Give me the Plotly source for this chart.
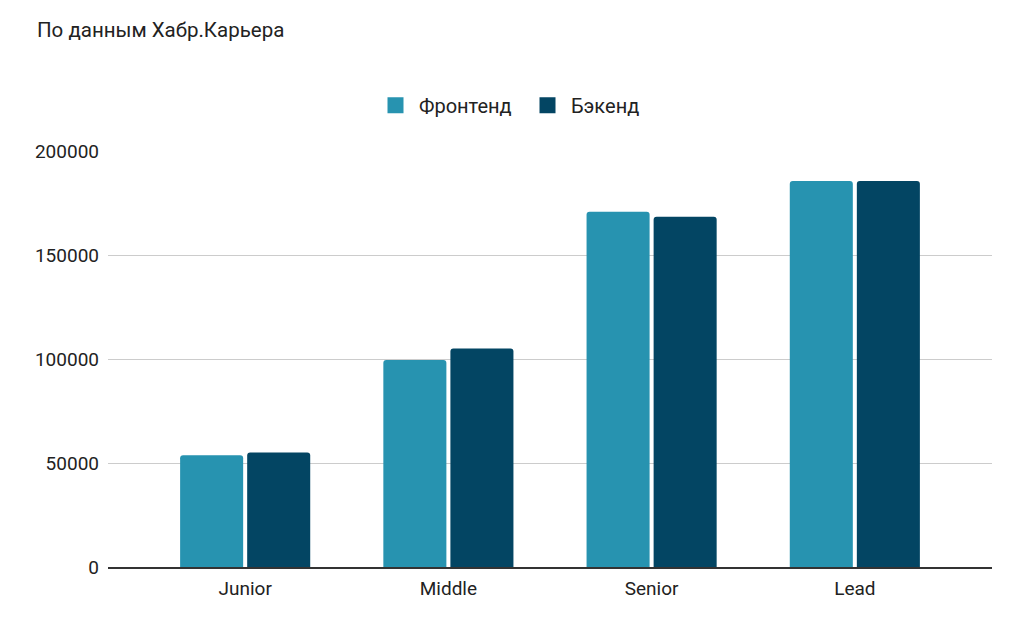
import plotly.graph_objects as go

levels = ["Junior", "Middle", "Senior", "Lead"]
frontend = [53700, 99500, 170800, 185600]
backend = [55100, 105100, 168400, 185600]
y_ticks = [0, 50000, 100000, 150000, 200000]

series = [("Фронтенд", frontend, "#2793b0"), ("Бэкенд", backend, "#034563")]

fig = go.Figure()
for name, values, color in series:
    fig.add_trace(go.Bar(
        x=levels, y=values, name=name, showlegend=False,
        marker={"color": color, "cornerradius": 3, "line": {"width": 0}}
    ))
# legend entries with larger square swatches
for name, values, color in series:
    fig.add_trace(go.Scatter(
        x=[None], y=[None], name=name, mode="markers",
        marker={"symbol": "square", "size": 20, "color": color}
    ))

# the page body has an 8px margin, so offsets are shifted by 8
fig.update_layout(
    width=1024, height=633,
    font={"family": "Roboto, Arial, sans-serif", "size": 19, "color": "#222222"},
    paper_bgcolor="white", plot_bgcolor="white",
    margin={"l": 100, "r": 40, "t": 143, "b": 74},
    barmode="group", bargap=0.34, bargroupgap=0.06,
    title={"text": "По данным Хабр.Карьера", "x": 29 / 1024, "xanchor": "left",
           "y": 1 - 22 / 633, "yanchor": "middle",
           "font": {"size": 20.5, "color": "#222222"}},
    legend={"orientation": "h", "x": (384 - 108 - 12) / 884, "xanchor": "left",
            "y": 1.11, "yanchor": "middle", "font": {"size": 20},
            "entrywidth": 100, "itemwidth": 37},
)
fig.update_yaxes(
    range=[0, 200000], tickvals=y_ticks, ticktext=[str(v) for v in y_ticks],
    showgrid=True, gridcolor="#cccccc", gridwidth=1,
    zeroline=False, ticks="", ticklabelstandoff=8,
)
fig.update_xaxes(
    range=[-0.675, 3.675],
    showline=True, linecolor="#333333", linewidth=1.5,
    ticks="", showgrid=False, ticklabelstandoff=3,
)

fig.write_html("out.html")
